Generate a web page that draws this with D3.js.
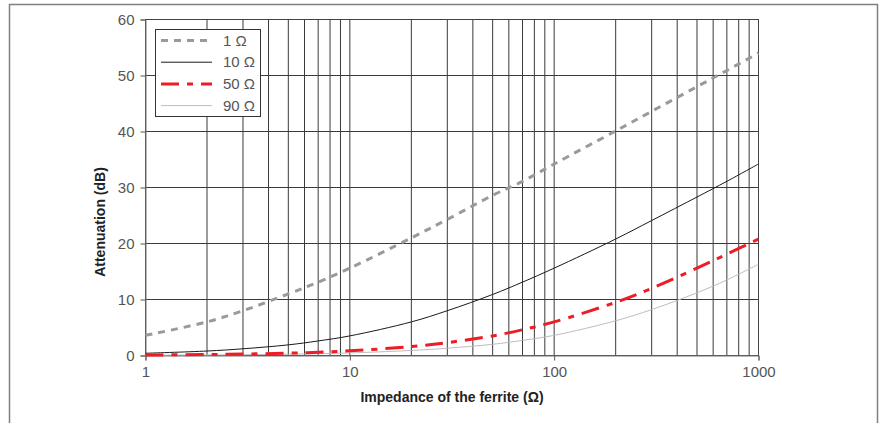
<!DOCTYPE html>
<html><head><meta charset="utf-8">
<script src="https://cdn.jsdelivr.net/npm/d3@7"></script>
<style>
body{margin:0;background:#fff;}
text{font-family:"Liberation Sans Narrow","Arial Narrow","Liberation Sans",Arial,sans-serif;}
</style></head>
<body><svg id="c" width="886" height="423"></svg>
<script>
const impedance = [1,2,3,5,7,10,20,30,50,70,100,200,300,500,700,1000];
const r1  = [3.6,6.0,8.0,11.0,13.1,15.6,21.0,24.3,28.6,31.1,34.2,40.1,43.6,48.0,50.9,54.0];
const r10 = [0.4,0.8,1.2,1.9,2.6,3.5,6.0,8.0,10.9,13.1,15.6,20.8,24.1,28.3,31.1,34.2];
const r50 = [0.09,0.17,0.26,0.41,0.58,0.83,1.6,2.3,3.5,4.6,6.0,9.5,12.0,15.6,18.1,20.8];
const r90 = [0.05,0.10,0.14,0.24,0.33,0.46,0.9,1.3,2.0,2.7,3.6,6.2,8.2,11.2,13.5,16.3];
const seriesNames = ["1 Ω","10 Ω","50 Ω","90 Ω"];
const xTicks = [1,10,100,1000];
const yTicks = [0,10,20,30,40,50,60];
const xTitle = "Impedance of the ferrite (Ω)";
const yTitle = "Attenuation (dB)";

const styles = [
  {color:"#9a9a9a", width:3, dash:"7,6"},
  {color:"#1a1a1a", width:1, dash:null},
  {color:"#ee1c25", width:3, dash:"18,8,6,8"},
  {color:"#bdbdbd", width:1, dash:null}
];
const seriesData = [r1,r10,r50,r90];

const svg = d3.select("#c");
svg.append("path").attr("d","M9.5,423 V4.5 H877.5 V423").attr("fill","none").attr("stroke","#808080").attr("stroke-width",1.5);

const L=145.5, R=758.5, T=19.5, B=355.5;
const x = d3.scaleLog().domain([1,1000]).range([L,R]);
const y = d3.scaleLinear().domain([0,60]).range([B,T]);

const g = svg.append("g");
const minor = [];
for (let d=1; d<1000; d*=10) for (let k=1;k<10;k++) minor.push(d*k);
g.selectAll("line.vg").data(minor.filter(v=>v>1&&v<1000)).join("line")
  .attr("x1",d=>x(d)).attr("x2",d=>x(d)).attr("y1",T).attr("y2",B)
  .attr("stroke","#3a3a3a").attr("stroke-width",1);
g.selectAll("line.hg").data(yTicks.filter(v=>v>0&&v<60)).join("line")
  .attr("x1",L).attr("x2",R).attr("y1",d=>y(d)).attr("y2",d=>y(d))
  .attr("stroke","#3a3a3a").attr("stroke-width",1);
g.append("rect").attr("x",L).attr("y",T).attr("width",R-L).attr("height",B-T)
  .attr("fill","none").attr("stroke","#444").attr("stroke-width",1);

const xAxis = d3.axisBottom(x).tickValues(xTicks).tickFormat(d3.format("d")).tickSize(5).tickPadding(6);
const xa = svg.append("g").attr("transform",`translate(0,${B})`).call(xAxis);
const yAxis = d3.axisLeft(y).tickValues(yTicks).tickSize(5).tickPadding(6);
const ya = svg.append("g").attr("transform",`translate(${L},0)`).call(yAxis);
[xa,ya].forEach(a=>{
  a.select(".domain").attr("stroke","#777");
  a.selectAll(".tick line").attr("stroke","#555");
  a.selectAll(".tick text").attr("fill","#555").style("font-size","15px")
   .style("font-family",'"Liberation Sans Narrow","Arial Narrow","Liberation Sans",Arial,sans-serif');
});

const line = d3.line().x((d,i)=>x(impedance[i])).y(d=>y(d)).curve(d3.curveCatmullRom.alpha(0.5));
const order = [3,1,0,2];
order.forEach(i=>{
  svg.append("path").datum(seriesData[i]).attr("d",line)
    .attr("fill","none").attr("stroke",styles[i].color).attr("stroke-width",styles[i].width)
    .attr("stroke-dasharray",styles[i].dash);
});

const lg = svg.append("g");
lg.append("rect").attr("x",155.5).attr("y",29.5).attr("width",105).attr("height",87)
  .attr("fill","#fff").attr("stroke","#333").attr("stroke-width",1);
seriesNames.forEach((n,i)=>{
  const yy = 40.5 + i*21.7;
  lg.append("line").attr("x1",161).attr("x2",212).attr("y1",yy).attr("y2",yy)
    .attr("stroke",styles[i].color).attr("stroke-width",styles[i].width)
    .attr("stroke-dasharray",styles[i].dash);
  lg.append("text").attr("x",223).attr("y",yy+5).text(n).attr("fill","#555").style("font-size","15px");
});

svg.append("text").attr("x",452).attr("y",402).attr("text-anchor","middle")
  .style("font-size","14px").style("font-weight","bold").attr("fill","#222").text(xTitle);
svg.append("text").attr("transform","translate(105,222) rotate(-90)").attr("text-anchor","middle")
  .style("font-size","14px").style("font-weight","bold").attr("fill","#222").text(yTitle);
</script></body></html>
